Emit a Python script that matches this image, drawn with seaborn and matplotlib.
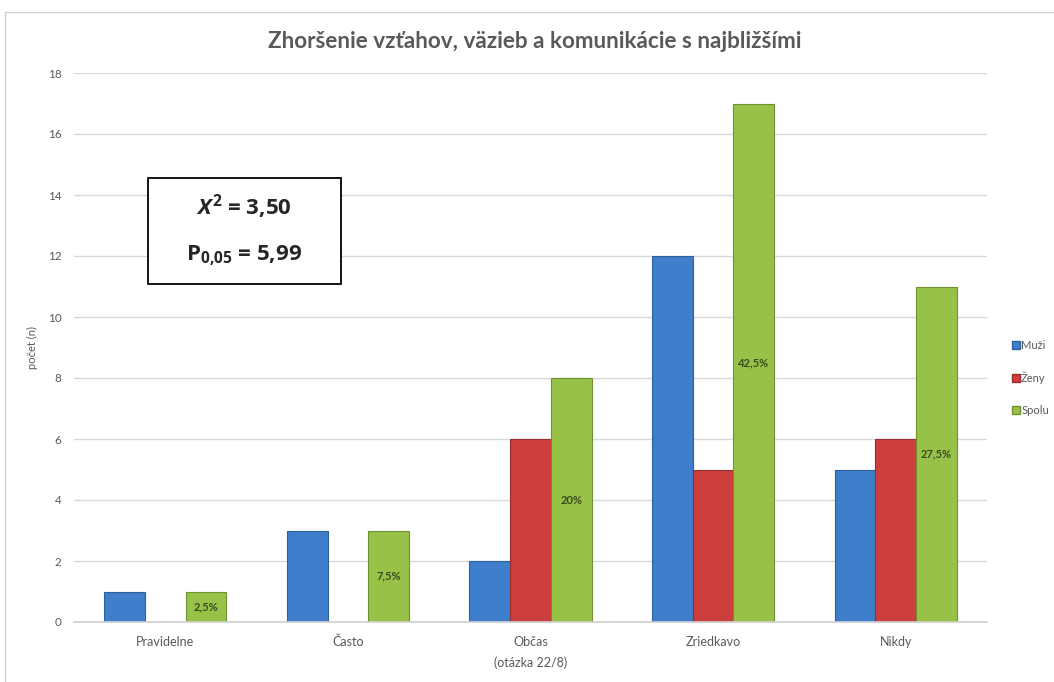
import matplotlib
matplotlib.use("Agg")
import matplotlib.pyplot as plt
import seaborn as sns
import pandas as pd
from matplotlib.patches import Rectangle
from matplotlib.lines import Line2D

categories = ["Pravidelne", "Často", "Občas", "Zriedkavo", "Nikdy"]
muzi = [1, 3, 2, 12, 5]
zeny = [0, 0, 6, 5, 6]
spolu = [1, 3, 8, 17, 11]
spolu_pct = ["2,5%", "7,5%", "20%", "42,5%", "27,5%"]
series_names = ["Muži", "Ženy", "Spolu"]
yticks = [0, 2, 4, 6, 8, 10, 12, 14, 16, 18]

title = "Zhoršenie vzťahov, väzieb a komunikácie s najbližšími"
xlabel = "(otázka 22/8)"
ylabel = "počet (n)"

sns.set_theme(style="white")
FONT = "Lato"
plt.rcParams["font.family"] = [FONT, "DejaVu Sans"]
plt.rcParams["mathtext.fontset"] = "custom"
plt.rcParams["mathtext.it"] = "Open Sans:bold:italic"
plt.rcParams["mathtext.rm"] = "Open Sans:bold"
plt.rcParams["mathtext.bf"] = "Open Sans:bold"

df = pd.DataFrame({
    "cat": categories * 3,
    "val": muzi + zeny + spolu,
    "series": [s for s in series_names for _ in categories],
})

colors = ["#3F7ECB", "#CC3F3D", "#97C247"]
edges = ["#2E5E9C", "#9A2E2C", "#6F9131"]

fig = plt.figure(figsize=(10.54, 6.82), dpi=100)
ax = fig.add_axes([74 / 1054, 1 - 622 / 682, (987 - 74) / 1054, (622 - 73) / 682])

sns.barplot(data=df, x="cat", y="val", hue="series", order=categories,
            hue_order=series_names, palette=colors, width=0.67,
            ax=ax, legend=False, saturation=1, linewidth=0)

for cont, ec in zip(ax.containers, edges):
    for p in cont:
        p.set_edgecolor(ec)
        p.set_linewidth(0.8)

ax.bar_label(ax.containers[2], labels=spolu_pct, label_type="center",
             fontsize=8, fontweight="bold", color="#3A4A20")

ax.set_xlim(-0.5, 4.5)
ax.set_ylim(0, 18)
ax.set_yticks(yticks)
ax.set_yticklabels([str(t) for t in yticks], fontsize=8.5, color="#595959")
ax.tick_params(axis="x", labelsize=9, colors="#595959", length=0, pad=10)
ax.tick_params(axis="y", length=0, pad=9)
ax.grid(axis="y", color="#D9D9D9", linewidth=1)
ax.set_axisbelow(True)
for s in ["top", "right", "left"]:
    ax.spines[s].set_visible(False)
ax.spines["bottom"].set_color("#D0D0D0")
ax.spines["bottom"].set_linewidth(1.2)
ax.set_xlabel(xlabel, fontsize=9, color="#595959", labelpad=6)
ax.set_ylabel(ylabel, fontsize=8, color="#595959", labelpad=7)

fig.text(535 / 1054, 1 - 42 / 682, title, ha="center", va="center",
         fontsize=16.2, fontweight="bold", color="#595959")

# statistics box
fig.add_artist(Rectangle((148 / 1054, 1 - 284 / 682), (341 - 148) / 1054, (284 - 178) / 682,
                         transform=fig.transFigure, facecolor="white",
                         edgecolor="black", linewidth=1.3, zorder=5))
fig.text(244 / 1054, 1 - 207 / 682, r"$X^{2}$ = 3,50", ha="center", va="center",
         fontsize=16, fontweight="bold", family="Open Sans", zorder=6)
fig.text(244 / 1054, 1 - 256 / 682, r"P$_{\mathrm{0{,}05}}$ = 5,99", ha="center", va="center",
         fontsize=16, fontweight="bold", family="Open Sans", zorder=6)

# legend
handles = [Line2D([0], [0], marker="s", linestyle="none", markersize=6,
                  markerfacecolor=c, markeredgecolor=e) for c, e in zip(colors, edges)]
fig.legend(handles, series_names, loc="center left",
           bbox_to_anchor=(1000 / 1054, 1 - 378 / 682), frameon=False,
           fontsize=8, labelspacing=1.9, handletextpad=0.0, handlelength=1,
           labelcolor="#595959")

# outer chart frame
fig.add_artist(Line2D([5 / 1054, 1], [1 - 12 / 682, 1 - 12 / 682], transform=fig.transFigure,
                      color="#D0D0D0", linewidth=1))
fig.add_artist(Line2D([5 / 1054, 5 / 1054], [0, 1 - 12 / 682], transform=fig.transFigure,
                      color="#D0D0D0", linewidth=1))

fig.savefig("out.png", dpi=100)
